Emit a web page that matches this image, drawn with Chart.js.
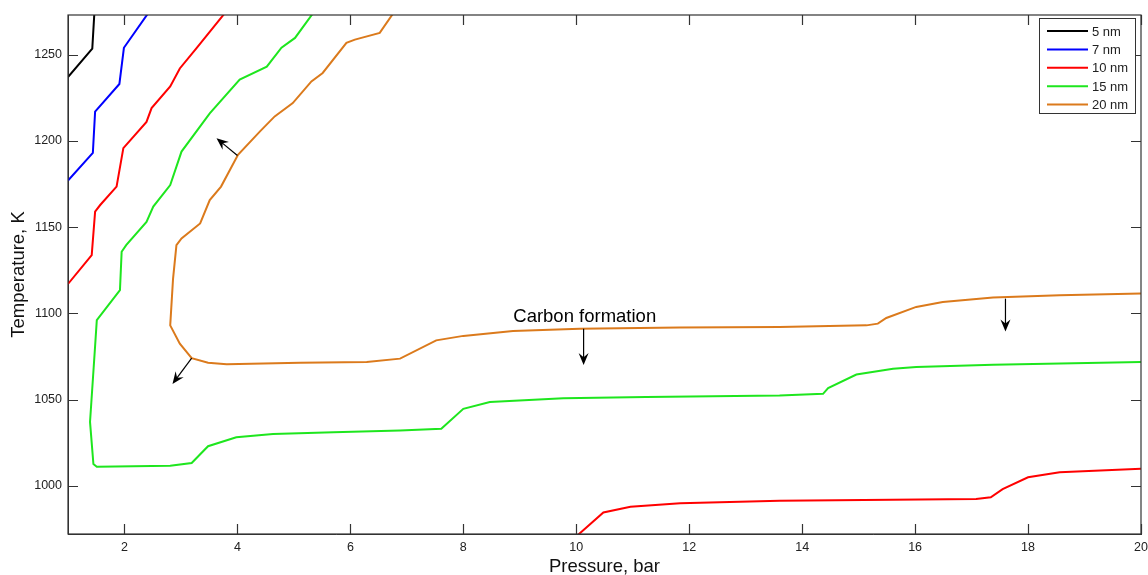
<!DOCTYPE html>
<html>
<head>
<meta charset="utf-8">
<script src="https://cdn.jsdelivr.net/npm/chart.js@4"></script>
<style>
  body { margin: 0; background: #fff; }
  #wrap { width: 1148px; height: 575px; }
</style>
</head>
<body>
<div id="wrap"><canvas id="grafico"></canvas></div>
<script>
// curvas (pressao em bar, temperatura em K)
const p5 = [1, 1.43, 1.47];
const t5 = [1237, 1253.5, 1276];

const p7 = [1, 1.44, 1.48, 1.91, 1.99, 2.44];
const t7 = [1177, 1193, 1217, 1233, 1254, 1275];

const p10a = [1, 1.42, 1.48, 1.57, 1.86, 1.98, 2.39, 2.48, 2.81, 2.98, 3.28, 3.8];
const t10a = [1117, 1133.7, 1159, 1162.8, 1173.5, 1195.8, 1211, 1219, 1231.6, 1242, 1254, 1275];
const p10b = [9.98, 10.48, 10.96, 11.84, 13.6, 17.08, 17.34, 17.55, 18.0, 18.56, 20];
const t10b = [970, 984.5, 987.8, 989.9, 991.3, 992.3, 993.3, 998, 1004.9, 1007.8, 1009.8];

const p15 = [5.36, 5.02, 4.78, 4.52, 4.04, 3.51, 3.01, 2.81, 2.51, 2.39, 2.03, 1.95, 1.92, 1.51, 1.48, 1.39, 1.45, 1.51,
             2.81, 3.19, 3.48, 3.98, 4.63, 5.70, 6.88, 7.61, 8.00, 8.47, 9.77, 11.24, 13.6, 14.37, 14.46, 14.96, 15.61, 16.02, 17.38, 20];
const t15 = [1275, 1259.7, 1254, 1243, 1235.5, 1216, 1193.8, 1174.4, 1161.9, 1153, 1139.5, 1135.7, 1113.4, 1096, 1081, 1037, 1012.6, 1011,
             1011.6, 1013.2, 1022.9, 1028.1, 1030, 1031, 1032, 1033, 1044.6, 1048.5, 1050.8, 1051.4, 1052.3, 1053.3, 1056.6, 1064.5, 1067.8, 1068.8, 1070.2, 1071.8];

const p20 = [6.78, 6.52, 6.08, 5.93, 5.51, 5.31, 4.98, 4.66, 4.40, 4.01, 3.71, 3.51, 3.34, 3.01, 2.92, 2.86, 2.81, 2.98, 3.19, 3.48, 3.81,
             5.11, 6.29, 6.88, 7.52, 8.0, 8.88, 10.06, 11.83, 13.6, 15.14, 15.34, 15.49, 16.02, 16.49, 17.38, 18.56, 20];
const t20 = [1275, 1262.6, 1258.7, 1256.8, 1239.4, 1234.5, 1221.9, 1214.2, 1205.5, 1191.9, 1173.5, 1165.7, 1152.1, 1143.4, 1139.5, 1120, 1093, 1082.4, 1074, 1071.3, 1070.4,
             1071.3, 1071.7, 1073.7, 1084.3, 1086.9, 1089.8, 1091.1, 1091.7, 1092.1, 1093, 1094, 1097.3, 1103.7, 1106.6, 1109.1, 1110.5, 1111.5];

const rotulos = ['5 nm', '7 nm', '10 nm', '15 nm', '20 nm'];
const cores = ['#000000', '#0000ff', '#ff0000', '#1ee61e', '#db7a1c'];

const xTicks = [2, 4, 6, 8, 10, 12, 14, 16, 18, 20];
const yTicks = [1000, 1050, 1100, 1150, 1200, 1250];

// setas: origem -> ponta
const setaDeX = [4.0, 3.19, 10.13, 17.6];
const setaDeY = [1191.5, 1074, 1091, 1108.5];
const setaAteX = [3.63, 2.85, 10.13, 17.6];
const setaAteY = [1201.5, 1059, 1070, 1089.5];

const textoAnot = 'Carbon formation';
const textoX = 10.15;
const textoY = 1098;

const FONTE = 'Arial, "Liberation Sans", sans-serif';

function pontos(xs, ys){
    return xs.map((x, i) => ({x: x, y: ys[i]}));
}

const dados10 = pontos(p10a, t10a).concat([{x: 6, y: null}], pontos(p10b, t10b));

const curvas = [pontos(p5, t5), pontos(p7, t7), dados10, pontos(p15, t15), pontos(p20, t20)];

function desenharSeta(ctx, x1, y1, x2, y2){
    const ang = Math.atan2(y2 - y1, x2 - x1);
    const comp = 12, larg = 5;
    ctx.save();
    ctx.strokeStyle = '#000';
    ctx.fillStyle = '#000';
    ctx.lineWidth = 1.2;
    ctx.beginPath();
    ctx.moveTo(x1, y1);
    ctx.lineTo(x2 - Math.cos(ang) * 6, y2 - Math.sin(ang) * 6);
    ctx.stroke();
    ctx.translate(x2, y2);
    ctx.rotate(ang);
    ctx.beginPath();
    ctx.moveTo(0, 0);
    ctx.lineTo(-comp, -larg);
    ctx.lineTo(-comp * 0.65, 0);
    ctx.lineTo(-comp, larg);
    ctx.closePath();
    ctx.fill();
    ctx.restore();
}

const molduraPlugin = {
    id: 'moldura',
    afterDraw(chart){
        const ctx = chart.ctx;
        const a = chart.chartArea;
        const sx = chart.scales.x, sy = chart.scales.y;
        ctx.save();
        ctx.strokeStyle = '#333';
        ctx.lineWidth = 1.2;
        ctx.strokeRect(a.left, a.top, a.right - a.left, a.bottom - a.top);
        ctx.beginPath();
        xTicks.forEach(v => {
            const px = Math.round(sx.getPixelForValue(v)) + 0.5;
            ctx.moveTo(px, a.bottom); ctx.lineTo(px, a.bottom - 10);
            ctx.moveTo(px, a.top); ctx.lineTo(px, a.top + 10);
        });
        yTicks.forEach(v => {
            const py = Math.round(sy.getPixelForValue(v)) + 0.5;
            ctx.moveTo(a.left, py); ctx.lineTo(a.left + 10, py);
            ctx.moveTo(a.right, py); ctx.lineTo(a.right - 10, py);
        });
        ctx.stroke();

        // setas e texto
        setaDeX.forEach((x, i) => {
            desenharSeta(ctx, sx.getPixelForValue(x), sy.getPixelForValue(setaDeY[i]),
                sx.getPixelForValue(setaAteX[i]), sy.getPixelForValue(setaAteY[i]));
        });
        ctx.fillStyle = '#000';
        ctx.font = '18.5px ' + FONTE;
        ctx.textAlign = 'center';
        ctx.textBaseline = 'middle';
        ctx.fillText(textoAnot, sx.getPixelForValue(textoX), sy.getPixelForValue(textoY));

        // legenda dentro do grafico
        const lx = a.right - 102, ly = a.top + 3, lw = 96, lh = 95;
        ctx.fillStyle = '#fff';
        ctx.fillRect(lx, ly, lw, lh);
        ctx.strokeStyle = '#333';
        ctx.lineWidth = 1;
        ctx.strokeRect(lx + 0.5, ly + 0.5, lw, lh);
        ctx.font = '13px ' + FONTE;
        ctx.textAlign = 'left';
        chart.data.datasets.forEach((ds, i) => {
            const y = ly + 13 + i * 18.4;
            ctx.strokeStyle = ds.borderColor;
            ctx.lineWidth = 2;
            ctx.beginPath();
            ctx.moveTo(lx + 8, y); ctx.lineTo(lx + 49, y);
            ctx.stroke();
            ctx.fillStyle = '#222';
            ctx.fillText(ds.label, lx + 53, y + 1);
        });
        ctx.restore();
    }
};

function setupGrafico(id){
    const ctx = document.getElementById(id).getContext('2d');
    const data = {
        datasets: curvas.map((c, i) => ({
            label: rotulos[i],
            data: c,
            borderColor: cores[i],
            backgroundColor: cores[i],
            borderWidth: 2,
            pointRadius: 0,
            tension: 0,
            spanGaps: false
        }))
    };
    const options = {
        responsive: true,
        maintainAspectRatio: false,
        animation: false,
        layout: { padding: { top: 15, right: 7, left: 0, bottom: 0 } },
        plugins: { legend: { display: false }, tooltip: { enabled: false } },
        scales: {
            x: {
                type: 'linear', min: 1, max: 20,
                grid: { display: false, drawTicks: false },
                border: { display: true, color: '#333' },
                afterBuildTicks: s => { s.ticks = xTicks.map(v => ({value: v})); },
                afterFit: s => { s.height = 41; s.paddingLeft = 0; s.paddingRight = 0; },
                ticks: { color: '#222', font: { family: FONTE, size: 12.5 }, padding: 6, maxRotation: 0, callback: v => String(v) },
                title: { display: true, text: 'Pressure, bar', color: '#111', font: { family: FONTE, size: 18.5 }, padding: { top: 0, bottom: -3 } }
            },
            y: {
                type: 'linear', min: 972, max: 1273,
                grid: { display: false, drawTicks: false },
                border: { display: true, color: '#333' },
                afterBuildTicks: s => { s.ticks = yTicks.map(v => ({value: v})); },
                afterFit: s => { s.width = 68; s.paddingTop = 0; s.paddingBottom = 0; },
                ticks: { color: '#222', font: { family: FONTE, size: 12.5 }, padding: 6, callback: v => String(v) },
                title: { display: true, text: 'Temperature, K', color: '#111', font: { family: FONTE, size: 18.5 }, padding: { top: 8, bottom: 8 } }
            }
        }
    };
    return new Chart(ctx, { type: 'line', data: data, options: options, plugins: [molduraPlugin] });
}

setupGrafico('grafico');
</script>
</body>
</html>
